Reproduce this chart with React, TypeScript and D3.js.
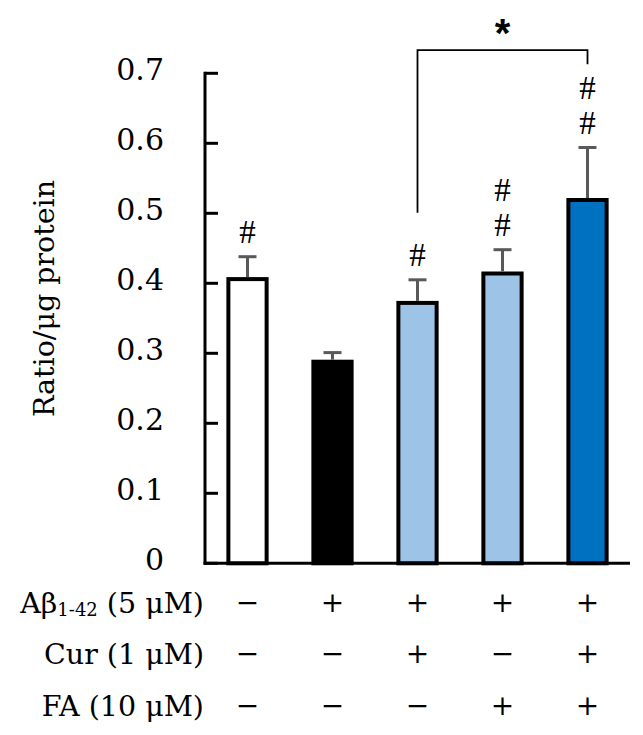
import React from "react";
import * as d3 from "d3";

const groups = ["Control", "Abeta", "Abeta+Cur", "Abeta+FA", "Abeta+Cur+FA"];
const values = [0.406, 0.288, 0.372, 0.414, 0.519];
const errors = [0.032, 0.013, 0.033, 0.034, 0.075];
const hashCounts = [1, 0, 1, 2, 2];
const barColors = ["#FFFFFF", "#000000", "#9DC3E6", "#9DC3E6", "#0070C0"];
const yTicks = [0, 0.1, 0.2, 0.3, 0.4, 0.5, 0.6, 0.7];
const tickLabels = ["0", "0.1", "0.2", "0.3", "0.4", "0.5", "0.6", "0.7"];
const yTitle = "Ratio/μg protein";
const rowLabels = ["Cur (1 μM)", "FA (10 μM)"];
const abSigns = ["−", "+", "+", "+", "+"];
const curSigns = ["−", "−", "+", "−", "+"];
const faSigns = ["−", "−", "−", "+", "+"];
const bracketFrom = 2;
const bracketTo = 4;
const bracketLevel = 0.733;
const bracketLabel = "*";

const FONT = "'DejaVu Serif', serif";

export default function App() {
  const W = 643;
  const H = 735;
  const x0 = 205;
  const x1 = 630;
  const y = d3.scaleLinear().domain([0, 0.7]).range([563.3, 73.3]);
  const x = d3
    .scaleBand<string>()
    .domain(groups)
    .range([x0, x1])
    .paddingInner(0.55)
    .paddingOuter(0.275);
  const bw = x.bandwidth();
  const cx = (i: number) => (x(groups[i]) as number) + bw / 2;

  const rowBaselines = [613, 664, 716];
  const signRows = [abSigns, curSigns, faSigns];

  const bracketY = y(bracketLevel);
  const leftBottom = y(values[bracketFrom] + errors[bracketFrom]) - 67;
  const rightBottom = bracketY + 14;

  return (
    <svg
      width={W}
      height={H}
      style={{ position: "absolute", left: 0, top: 0, background: "#fff" }}
      fontFamily={FONT}
    >
      <rect x={0} y={0} width={W} height={H} fill="#fff" />
      {/* y title */}
      <text
        transform={`translate(54, 298.5) rotate(-90)`}
        textAnchor="middle"
        fontSize={28.5}
        fill="#000"
      >
        {yTitle}
      </text>
      {/* tick labels */}
      {yTicks.map((t, i) => (
        <text
          key={"tl" + i}
          x={164}
          y={y(t) + 7}
          textAnchor="end"
          fontSize={30}
          fill="#000"
        >
          {tickLabels[i]}
        </text>
      ))}
      {/* bars */}
      {values.map((v, i) => (
        <rect
          key={"b" + i}
          x={x(groups[i])}
          y={y(v)}
          width={bw}
          height={y(0) - y(v)}
          fill={barColors[i]}
          stroke="#000"
          strokeWidth={4}
        />
      ))}
      {/* error bars */}
      {values.map((v, i) => (
        <g key={"e" + i} stroke="#595959" strokeWidth={3}>
          <line x1={cx(i)} x2={cx(i)} y1={y(v) - 2} y2={y(v + errors[i])} />
          <line x1={cx(i) - 9} x2={cx(i) + 9} y1={y(v + errors[i])} y2={y(v + errors[i])} />
        </g>
      ))}
      {/* hash marks */}
      {values.map((v, i) =>
        d3.range(hashCounts[i]).map((k) => (
          <text
            key={"h" + i + "-" + k}
            x={cx(i)}
            y={y(v + errors[i]) - 26 - k * 35 + 12}
            textAnchor="middle"
            fontSize={33}
            fontFamily="'Liberation Serif', serif"
            fill="#000"
          >
            #
          </text>
        ))
      )}
      {/* axes */}
      <line x1={x0} x2={x0} y1={y(0.7) - 1.5} y2={y(0) + 1.5} stroke="#000" strokeWidth={3} />
      {yTicks.map((t, i) => (
        <line key={"t" + i} x1={x0} x2={x0 + 13} y1={y(t)} y2={y(t)} stroke="#000" strokeWidth={3} />
      ))}
      <line x1={x0 - 1.5} x2={x1} y1={y(0)} y2={y(0)} stroke="#000" strokeWidth={3} />
      {/* bracket */}
      <path
        d={`M${cx(bracketFrom)},${leftBottom} V${bracketY} H${cx(bracketTo)} V${rightBottom}`}
        fill="none"
        stroke="#000"
        strokeWidth={1.8}
      />
      <text
        x={(cx(bracketFrom) + cx(bracketTo)) / 2}
        y={bracketY - 3}
        textAnchor="middle"
        fontSize={40}
        fontWeight="bold"
        fontFamily="'Liberation Sans', Arial, sans-serif"
        fill="#000"
      >
        {bracketLabel}
      </text>
      {/* row labels */}
      <text x={204} y={rowBaselines[0]} textAnchor="end" fontSize={28.5} fill="#000">
        <tspan>Aβ</tspan>
        <tspan fontSize={18} dy={3}>1-42</tspan>
        <tspan dy={-3}> (5 μM)</tspan>
      </text>
      {rowLabels.map((l, i) => (
        <text key={"rl" + i} x={204} y={rowBaselines[i + 1]} textAnchor="end" fontSize={28.5} fill="#000">
          {l}
        </text>
      ))}
      {signRows.map((row, r) =>
        row.map((s, i) => (
          <text
            key={"s" + r + "-" + i}
            x={cx(i)}
            y={rowBaselines[r] - 1}
            textAnchor="middle"
            fontSize={28}
            fill="#000"
          >
            {s}
          </text>
        ))
      )}
    </svg>
  );
}
